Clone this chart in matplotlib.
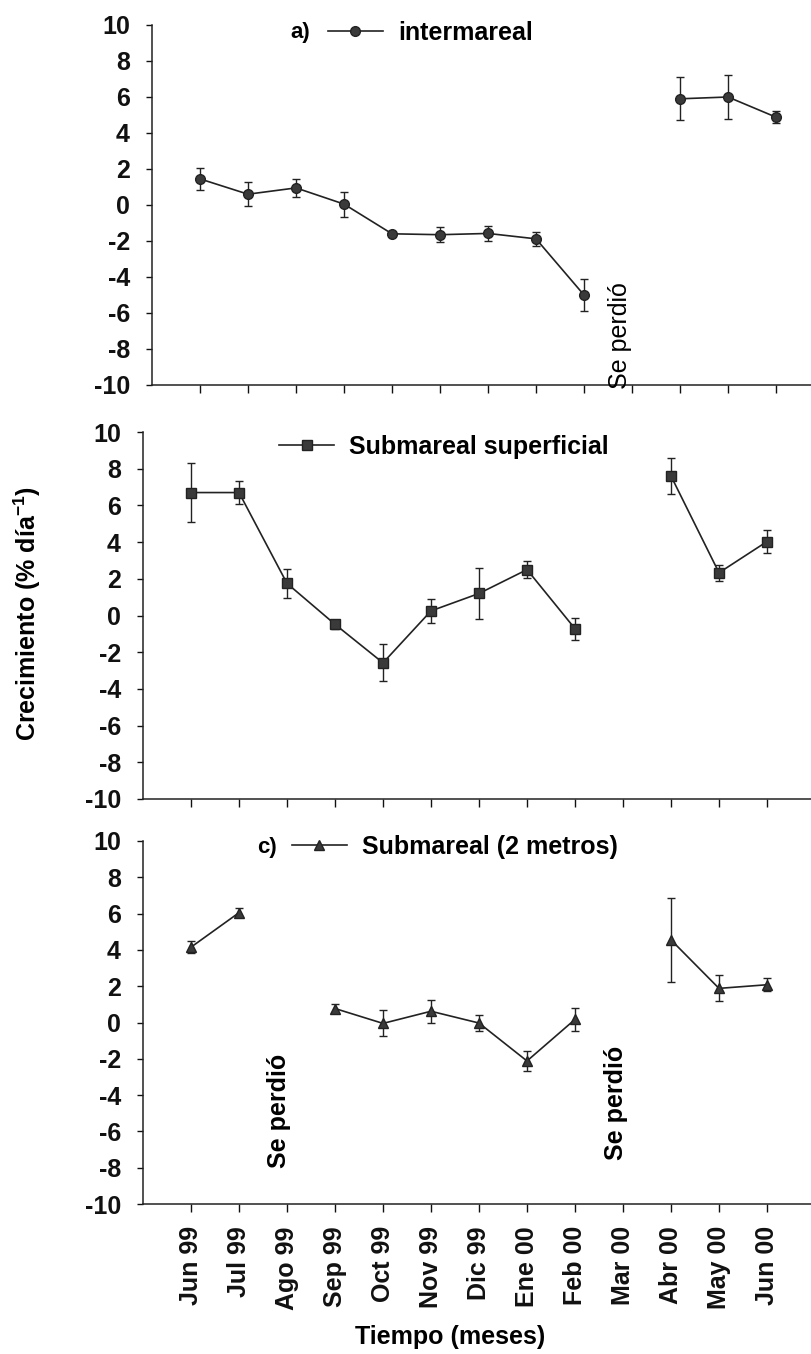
import numpy as np
import matplotlib
matplotlib.use('Agg')
import matplotlib.pyplot as plt

plt.rcParams['font.family'] = ['Liberation Sans', 'DejaVu Sans']
plt.rcParams['mathtext.fontset'] = 'custom'
plt.rcParams['mathtext.rm'] = 'Liberation Sans'
plt.rcParams['mathtext.bf'] = 'Liberation Sans:bold'

nan = np.nan

months = ['Jun 99', 'Jul 99', 'Ago 99', 'Sep 99', 'Oct 99', 'Nov 99', 'Dic 99',
          'Ene 00', 'Feb 00', 'Mar 00', 'Abr 00', 'May 00', 'Jun 00']

# a) intermareal
inter = [1.45, 0.6, 0.95, 0.05, -1.6, -1.65, -1.58, -1.88, -5.0, nan, 5.9, 6.0, 4.88]
inter_err = [0.6, 0.68, 0.52, 0.7, 0.1, 0.43, 0.4, 0.37, 0.9, nan, 1.2, 1.2, 0.33]

# b) submareal superficial
sup = [6.7, 6.7, 1.75, -0.48, -2.58, 0.25, 1.2, 2.5, -0.72, nan, 7.6, 2.33, 4.03]
sup_err = [1.6, 0.65, 0.78, 0.25, 1.0, 0.67, 1.4, 0.48, 0.59, nan, 0.97, 0.43, 0.63]

# c) submareal (2 metros)
dos = [4.15, 6.05, nan, 0.77, -0.05, 0.62, -0.03, -2.12, 0.17, nan, 4.55, 1.88, 2.08]
dos_err = [0.33, 0.24, nan, 0.27, 0.72, 0.63, 0.42, 0.57, 0.63, nan, 2.3, 0.72, 0.35]

yticks = [10, 8, 6, 4, 2, 0, -2, -4, -6, -8, -10]

W, H = 811, 1354
fig = plt.figure(figsize=(W / 100, H / 100), dpi=100)


def make_ax(left, top, bottom):
    ax = fig.add_axes([left / W, 1 - bottom / H, (W - left) / W, (bottom - top) / H])
    ax.set_xlim(-1, -1 + (W - left) / 48.0)
    ax.set_ylim(-10, 10)
    ax.set_yticks(yticks)
    ax.set_yticklabels([str(t) for t in yticks], fontsize=18, fontweight='bold')
    ax.set_xticks(range(len(months)))
    ax.set_xticklabels([])
    for s in ['top', 'right']:
        ax.spines[s].set_visible(False)
    for s in ['left', 'bottom']:
        ax.spines[s].set_linewidth(1.1)
        ax.spines[s].set_color('#222222')
    ax.tick_params(axis='y', length=4, width=1.0, pad=12, colors='#111111')
    ax.tick_params(axis='x', length=6, width=1.0, colors='#111111')
    return ax


def series(ax, y, err, marker, ms, label):
    x = np.arange(len(months))
    ax.errorbar(x, y, yerr=err, fmt='none', ecolor='#222222', elinewidth=1.0,
                capsize=3, capthick=1.0)
    h, = ax.plot(x, y, color='#222222', lw=1.2, marker=marker, ms=ms,
                 mfc='#3a3a3a', mec='#222222', label=label)
    return h


ax_a = make_ax(152, 25, 385)
ax_b = make_ax(143, 432, 799)
ax_c = make_ax(143, 841, 1204)

h = series(ax_a, inter, inter_err, 'o', 7, 'intermareal')
ax_a.legend(handles=[h], loc='center left', bbox_to_anchor=(0.267, 0.978),
            frameon=False, borderpad=0, borderaxespad=0, handlelength=2.2,
            handletextpad=0.6, prop={'size': 18, 'weight': 'bold'})
ax_a.text(0.24, 0.978, 'a)', transform=ax_a.transAxes, ha='right', va='center',
          fontsize=16, fontweight='bold')
ax_a.text(8.75, -10.2, 'Se perdió', rotation=90, ha='center', va='bottom',
          fontsize=18)

h = series(ax_b, sup, sup_err, 's', 6.5, 'Submareal superficial')
ax_b.legend(handles=[h], loc='center left', bbox_to_anchor=(0.204, 0.959),
            frameon=False, borderpad=0, borderaxespad=0, handlelength=2.2,
            handletextpad=0.6, prop={'size': 18, 'weight': 'bold'})

h = series(ax_c, dos, dos_err, '^', 6.5, 'Submareal (2 metros)')
ax_c.legend(handles=[h], loc='center left', bbox_to_anchor=(0.223, 0.983),
            frameon=False, borderpad=0, borderaxespad=0, handlelength=2.2,
            handletextpad=0.6, prop={'size': 18, 'weight': 'bold'})
ax_c.text(0.2, 0.983, 'c)', transform=ax_c.transAxes, ha='right', va='center',
          fontsize=16, fontweight='bold')
ax_c.text(1.83, -8.0, 'Se perdió', rotation=90, ha='center', va='bottom',
          fontsize=18, fontweight='bold')
ax_c.text(8.85, -7.6, 'Se perdió', rotation=90, ha='center', va='bottom',
          fontsize=18, fontweight='bold')

ax_c.set_xticklabels(months, rotation=90, fontsize=18, fontweight='bold')
ax_c.tick_params(axis='x', pad=10)

fig.text(27 / W, 1 - 613 / H, r'Crecimiento (% día$^{\mathbf{-1}}$)', rotation=90,
         ha='center', va='center', fontsize=18, fontweight='bold')
fig.text(450 / W, 1 - 1337 / H, 'Tiempo (meses)', ha='center', va='center',
         fontsize=18, fontweight='bold')

fig.savefig('out.png', dpi=100)
